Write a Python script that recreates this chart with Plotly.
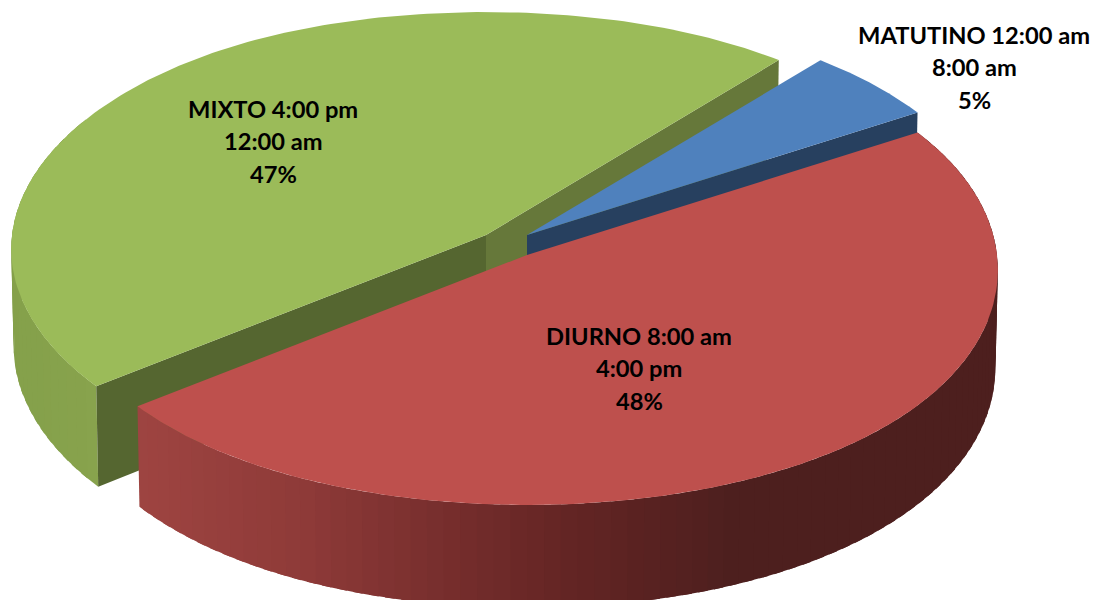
import numpy as np
import plotly.graph_objects as go

# ---- data ----
categories = ["MATUTINO 12:00 am<br>8:00 am", "DIURNO 8:00 am<br>4:00 pm", "MIXTO 4:00 pm<br>12:00 am"]
values = [5.0, 48.4, 46.6]
percent_labels = ["5%", "48%", "47%"]

# ---- style / layout ----
top_colors = ["#4F81BD", "#BE504D", "#9BBB59"]
centers = [(527, 235), (527, 255), (486, 235)]
side_stretch = [0.0, 0.0, 0.0085]
label_pos = [(974, 67), (639, 368), (273, 141)]
LINE_GAP = 32.5
START_ANGLE = 40.0
A, B, K, DEPTH, SHRINK, ROUND = 470.0, 235.7, 0.057, 97.0, 0.005, 0.012
W, H = 1094, 600

red_rim_stops = [(137, "#9E4441"), (300, "#8E3A38"), (450, "#752D2C"), (560, "#642524"), (640, "#592221"), (730, "#4D1F1E"), (1100, "#4D1F1E")]
green_rim_stops = [(0, "#84A04A"), (100, "#88A34D")]


def project(theta_deg, center, z=0.0, stretch=0.0):
    t = np.radians(theta_deg)
    r = 1 + ROUND * np.sin(2 * t) ** 2
    u = r * np.sin(t) * (1 + stretch * np.cos(2 * t) ** 2)
    v = r * np.cos(t)
    w = 1 + K * v
    x = center[0] + A * u / w * (1 - SHRINK * z)
    y = center[1] - B * v / w + DEPTH * z / w
    return x, y


def apex(center, z=0.0):
    return center[0], center[1] + DEPTH * z


def hex2rgb(h):
    return np.array([int(h[i:i + 2], 16) for i in (1, 3, 5)], float)


def color_at(x, stops):
    xs = [s[0] for s in stops]
    rgb = np.array([hex2rgb(s[1]) for s in stops])
    c = [np.interp(x, xs, rgb[:, i]) for i in range(3)]
    return "rgb(%d,%d,%d)" % tuple(int(round(a)) for a in c)


def poly(xs, ys, color):
    return go.Scatter(x=list(xs), y=list(ys), mode="lines", fill="toself", fillcolor=color,
                      line=dict(width=0), hoverinfo="skip", showlegend=False)


def top_face(a0, a1, center, color, stretch=0.0):
    th = np.linspace(a0, a1, 160)
    x, y = project(th, center, 0.0, stretch)
    ax, ay = apex(center)
    return poly(np.r_[ax, x, ax], np.r_[ay, y, ay], color)


def cut_face(theta, center, color, stretch=0.0):
    x0, y0 = project(theta, center, 0.0, stretch)
    x1, y1 = project(theta, center, 1.0, stretch)
    ax, ay = apex(center)
    bx, by = apex(center, 1.0)
    return poly([ax, x0, x1, bx, ax], [ay, y0, y1, by, ay], color)


def rim(a0, a1, center, stops, n=70, stretch=0.0):
    out = []
    th = np.linspace(a0, a1, n + 1)
    for i in range(n):
        seg = np.linspace(th[i], min(th[i + 1] + (a1 - a0) / n * 0.6, a1), 6)
        x0, y0 = project(seg, center, 0.0, stretch)
        x1, y1 = project(seg, center, 1.0, stretch)
        out.append(poly(np.r_[x0, x1[::-1]], np.r_[y0, y1[::-1]], color_at(x0.mean(), stops)))
    return out


edges = START_ANGLE + np.r_[0, np.cumsum(values)] * 3.6
blue_a = (edges[0], edges[1])
red_a = (edges[1], edges[2])
green_a = (edges[2], edges[3])

fig = go.Figure()
# green slice
fig.add_traces(rim(green_a[0], 300, centers[2], green_rim_stops, 30, side_stretch[2]))
fig.add_trace(cut_face(green_a[0], centers[2], "#556630", side_stretch[2]))
fig.add_trace(cut_face(green_a[1], centers[2], "#66783A", side_stretch[2]))
fig.add_trace(top_face(green_a[0], green_a[1], centers[2], top_colors[2], side_stretch[2]))
# blue slice
fig.add_trace(cut_face(blue_a[1], centers[0], "#27405F"))
fig.add_trace(top_face(blue_a[0], blue_a[1], centers[0], top_colors[0]))
# red slice
fig.add_traces(rim(red_a[0], red_a[1], centers[1], red_rim_stops, 90))
fig.add_trace(top_face(red_a[0], red_a[1], centers[1], top_colors[1]))

for cat, pct, (lx, ly) in zip(categories, percent_labels, label_pos):
    lines = cat.split("<br>") + [pct]
    for i, line in enumerate(lines):
        fig.add_annotation(x=lx, y=ly + (i - 1) * LINE_GAP, text=f"<b>{line}</b>", showarrow=False,
                           font=dict(family="Lato", size=23.7, color="#000000"))

fig.update_layout(width=W, height=H, margin=dict(l=0, r=0, t=0, b=0), showlegend=False,
                  paper_bgcolor="white", plot_bgcolor="white",
                  xaxis=dict(range=[0, W], visible=False, fixedrange=True),
                  yaxis=dict(range=[H, 0], visible=False, fixedrange=True))
fig.write_html("out.html", config={"displayModeBar": False}, post_script="document.body.style.margin='0';")
